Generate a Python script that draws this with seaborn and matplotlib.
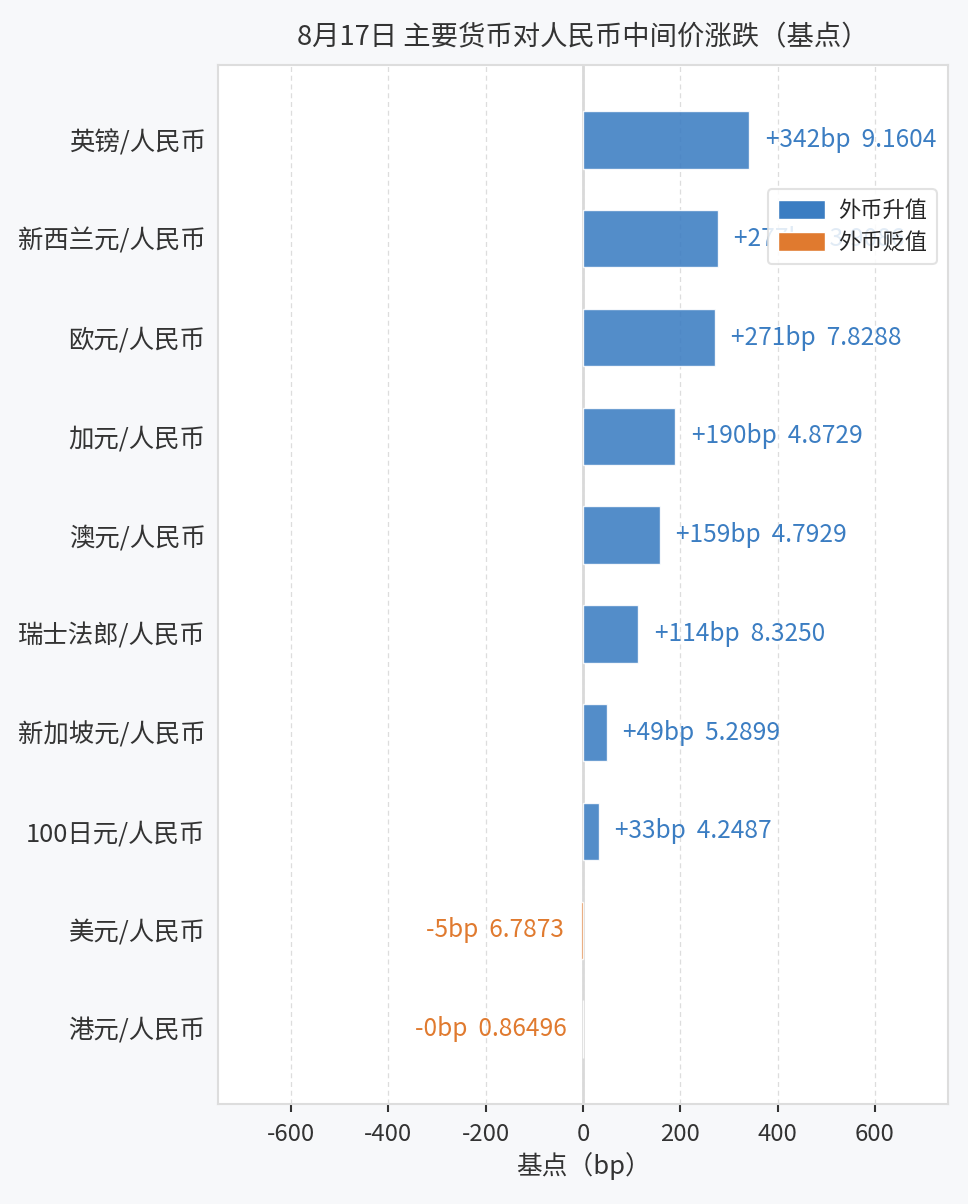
import matplotlib
matplotlib.use("Agg")
import matplotlib.pyplot as plt
import seaborn as sns
import pandas as pd
from matplotlib.patches import Patch

pairs = ["英镑/人民币", "新西兰元/人民币", "欧元/人民币", "加元/人民币", "澳元/人民币",
         "瑞士法郎/人民币", "新加坡元/人民币", "100日元/人民币", "美元/人民币", "港元/人民币"]
bp_change = [342, 277, 271, 190, 159, 114, 49, 33, -5, -0.4]
mid_rates = ["9.1604", "3.9086", "7.8288", "4.8729", "4.7929",
             "8.3250", "5.2899", "4.2487", "6.7873", "0.86496"]
x_ticks = [-600, -400, -200, 0, 200, 400, 600]

UP = "#3b7dc2"
DOWN = "#e07a2f"

sns.set_theme(style="white")
plt.rcParams["font.family"] = ["Noto Sans CJK SC", "DejaVu Sans"]
plt.rcParams["axes.unicode_minus"] = False

df = pd.DataFrame({"pair": pairs, "bp": bp_change, "rate": mid_rates})
df["dir"] = ["外币升值" if v >= 0 else "外币贬值" for v in df["bp"]]

fig = plt.figure(figsize=(9.68, 12.04), dpi=100, facecolor="#f7f8fa")
ax = fig.add_axes([218 / 968, 1 - 1104 / 1204, (948 - 218) / 968, (1104 - 65) / 1204])
ax.set_facecolor("white")

sns.barplot(data=df, y="pair", x="bp", hue="dir", orient="h", dodge=False,
            palette={"外币升值": UP, "外币贬值": DOWN}, hue_order=["外币升值", "外币贬值"],
            width=0.58, alpha=0.88, saturation=1, legend=False, ax=ax, zorder=3)

ax.set_xlim(-750, 750)
ax.set_ylim(9.76, -0.76)
ax.set_xticks(x_ticks)
ax.set_xticklabels([str(t) for t in x_ticks])
ax.grid(axis="x", color="#dddddd", linestyle=(0, (4, 3)), linewidth=0.9, zorder=0)
ax.axvline(0, color="#d9d9d9", linewidth=2, zorder=2)

for i, (v, r) in enumerate(zip(bp_change, mid_rates)):
    col = UP if v >= 0 else DOWN
    txt = f"{v:+.0f}bp  {r}"
    if v >= 0:
        ax.text(v + 33, i, txt, ha="left", va="center", fontsize=17.6, color=col, zorder=4)
    else:
        ax.text(v - 34, i, txt, ha="right", va="center", fontsize=17.6, color=col, zorder=4)

for s in ax.spines.values():
    s.set_color("#dddddd")
    s.set_linewidth(1.5)

ax.tick_params(axis="y", length=0, pad=9, labelsize=18.3, labelcolor="#333333")
ax.tick_params(axis="x", length=6, width=1.5, color="#333333", pad=8, labelsize=17.2,
               labelcolor="#333333", bottom=True)
ax.set_ylabel("")
ax.set_xlabel("基点（bp）", fontsize=18.5, color="#333333", labelpad=4)
ax.set_title("8月17日 主要货币对人民币中间价涨跌（基点）", fontsize=19.7, color="#333333", pad=14)

handles = [Patch(facecolor=UP, label="外币升值"), Patch(facecolor=DOWN, label="外币贬值")]
leg = ax.legend(handles=handles, loc="upper right", bbox_to_anchor=(1.0, 0.891),
                fontsize=16, frameon=True, framealpha=0.85, edgecolor="#dddddd",
                handlelength=2.1, handleheight=0.95, handletextpad=0.6,
                borderpad=0.45, labelspacing=0.4)
leg.get_frame().set_linewidth(1.5)

fig.savefig("out.png", dpi=100, facecolor=fig.get_facecolor())
